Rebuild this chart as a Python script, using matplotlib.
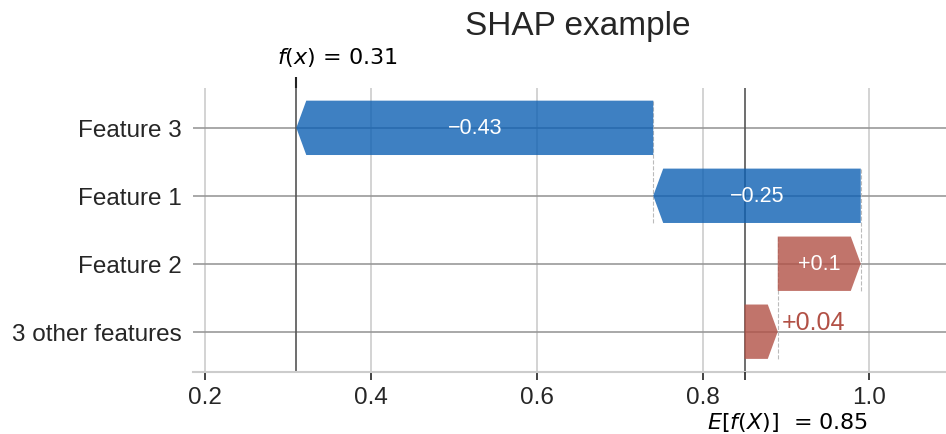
import matplotlib.pyplot as plt
from matplotlib.patches import Polygon

# data (top row first)
features = ['Feature 3', 'Feature 1', 'Feature 2', '3 other features']
shap_vals = [-0.43, -0.25, 0.10, 0.04]
base_value = 0.85
fx_value = 0.31
xticks = [0.2, 0.4, 0.6, 0.8, 1.0]

plt.rcParams['font.family'] = ['Liberation Sans', 'DejaVu Sans']
plt.rcParams['mathtext.fontset'] = 'dejavusans'
text_col = '#262626'
blue = '#0d60b3'
red = '#b25146'

fig = plt.figure(figsize=(9.46, 4.35), dpi=100)
ax = fig.add_axes([0.204, 0.143, 0.796, 0.653])

n = len(features)
rows = list(range(n - 1, -1, -1))  # Feature 3 at top

# start/end of each arrow, accumulated from the bottom row up
ends = [0] * n
starts = [0] * n
cur = base_value
for i in range(n - 1, -1, -1):
    starts[i] = cur
    cur = cur + shap_vals[i]
    ends[i] = cur

bar_h = 0.8
head = 0.012
for i in range(n):
    y = rows[i]
    s, e, v = starts[i], ends[i], shap_vals[i]
    sign = 1 if v > 0 else -1
    hl = min(head, abs(v) * 0.9)
    shoulder = e - sign * hl
    pts = [(s, y - bar_h / 2), (shoulder, y - bar_h / 2), (e, y),
           (shoulder, y + bar_h / 2), (s, y + bar_h / 2)]
    col = red if v > 0 else blue
    ax.add_patch(Polygon(pts, closed=True, facecolor=col, edgecolor='none',
                         alpha=0.8, zorder=3))
    lab = ('+' if v > 0 else '\u2212') + ('%g' % abs(v))
    if abs(v) > 0.06:
        ax.text((s + e) / 2, y, lab, color='white', ha='center', va='center',
                fontsize=15.5, zorder=4)
    else:
        ax.text(max(s, e) + 0.005, y + 0.15, lab, color=red, ha='left',
                va='center', fontsize=18, zorder=4)
    # dashed connector from this bar to the row below
    if i < n - 1:
        ax.plot([s, s], [y + bar_h / 2, y - 1 - bar_h / 2], color='#bbbbbb',
                ls='--', lw=0.8, zorder=2)

# row lines
for y in rows:
    ax.axhline(y, color='#999999', lw=1.2, zorder=1)

# base and output lines
ax.axvline(base_value, color='#555555', lw=1.2, zorder=1)
ax.axvline(fx_value, color='#555555', lw=1.2, zorder=1)

ax.set_xlim(0.1855, 1.0927)
ax.set_ylim(-0.59, n - 1 + 0.59)
ax.set_xticks(xticks)
ax.set_xticklabels(['%.1f' % t for t in xticks])
ax.set_yticks(rows)
ax.set_yticklabels(features)
ax.tick_params(axis='x', labelsize=17.5, labelcolor=text_col, length=6,
               width=1.2, color='#222222', pad=4)
ax.tick_params(axis='y', labelsize=17.5, labelcolor=text_col, length=0, pad=8)
ax.grid(axis='x', color='#cccccc', lw=1.2, zorder=0)
ax.set_axisbelow(True)
for sp in ['top', 'right', 'left']:
    ax.spines[sp].set_visible(False)
ax.spines['bottom'].set_color('#cccccc')
ax.spines['bottom'].set_linewidth(1.5)

# tick marks for E[f(X)] (bottom) and f(x) (top)
ax2 = ax.twiny()
ax2.set_xlim(ax.get_xlim())
ax2.xaxis.set_ticks_position('bottom')
for sp in ax2.spines.values():
    sp.set_visible(False)
ax2.set_xticks([base_value])
ax2.set_xticklabels([''])
ax2.tick_params(axis='x', length=6, width=1.2, color='#222222')

ax3 = ax.twiny()
ax3.set_xlim(ax.get_xlim())
for sp in ax3.spines.values():
    sp.set_visible(False)
ax3.set_xticks([fx_value])
ax3.set_xticklabels([''])
ax3.tick_params(axis='x', length=8, width=1.5, color='#222222')

ax.annotate('$E[f(X)]$  = %g' % base_value, xy=(base_value, 0),
            xycoords=('data', 'axes fraction'), xytext=(-38, -50),
            textcoords='offset pixels', ha='left', va='center',
            fontsize=16, family='DejaVu Sans', color='black',
            annotation_clip=False)
ax.annotate('$f(x)$ = %g' % fx_value, xy=(fx_value, 1),
            xycoords=('data', 'axes fraction'), xytext=(-19, 31),
            textcoords='offset pixels', ha='left', va='center',
            fontsize=16, family='DejaVu Sans', color='black',
            annotation_clip=False)

fig.text(0.611, 0.938, 'SHAP example', ha='center', va='center',
         fontsize=24, color=text_col)

fig.savefig('out.png', dpi=100)
